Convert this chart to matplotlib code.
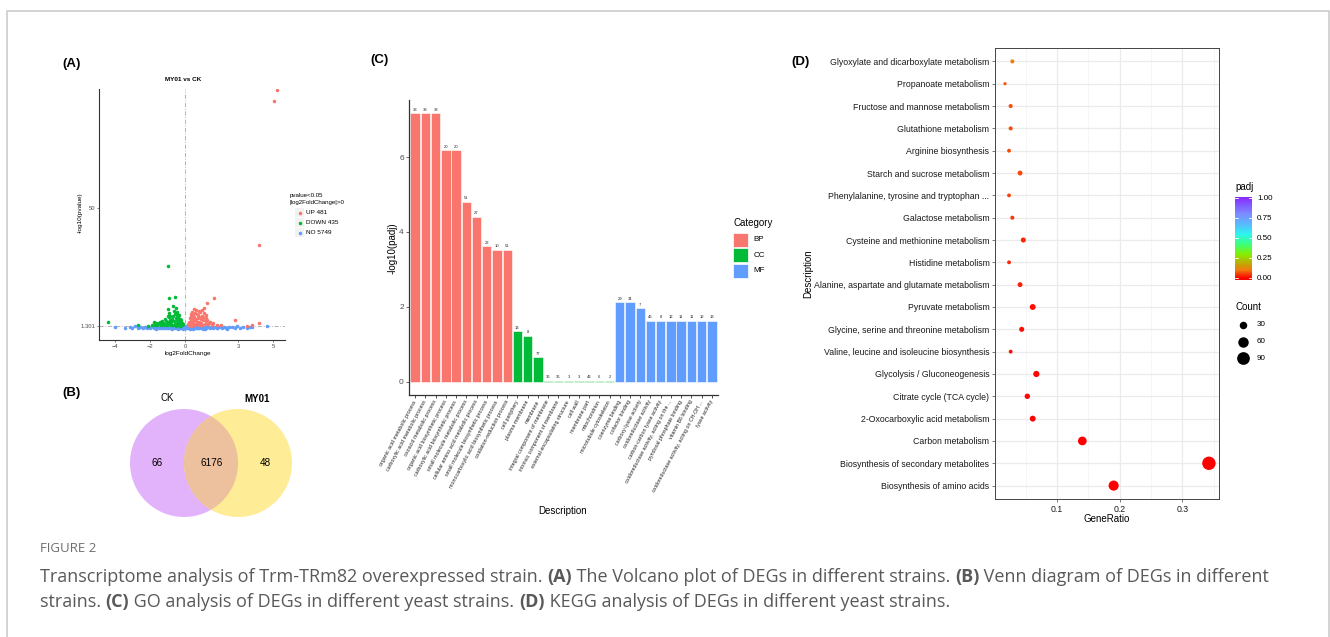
import numpy as np
import matplotlib
matplotlib.use("Agg")
import matplotlib.pyplot as plt
from matplotlib.colors import LinearSegmentedColormap
from matplotlib.patches import Circle, Rectangle

plt.rcParams['font.family'] = ['Liberation Sans', 'DejaVu Sans']

# ---------------- data ----------------
# (A) volcano plot: log2 fold change and -log10(pvalue)
up_lfc = [0.2, 0.25, 0.3, 0.35, 0.4, 0.45, 0.5, 0.5, 0.55, 0.6, 0.6, 0.65, 0.7, 0.75, 0.8,
          0.85, 0.9, 0.95, 1.0, 1.05, 1.1, 1.15, 1.2, 1.3, 1.4, 1.5, 1.6, 1.8, 2.0, 0.3,
          0.35, 0.4, 0.45, 0.55, 0.7, 0.75, 0.8, 0.9, 1.0, 1.25, 1.15, 0.25, 0.2, 0.15, 0.65,
          0.95, 1.35, 0.5, 0.4, 0.6, 0.7, 0.3, 0.85, 1.63, 1.25, 2.82, 4.17, 3.8, 3.5, 5.19,
          5.06, 4.17, 1.05, 0.95]
up_p = [1.6, 2.4, 3.2, 1.9, 4.1, 2.7, 5.0, 8.3, 3.5, 7.7, 2.1, 6.0, 4.4, 1.7, 3.0,
        7.1, 2.5, 5.2, 3.8, 6.5, 2.2, 3.3, 4.6, 1.9, 2.8, 1.8, 2.4, 1.5, 1.6, 5.4,
        6.4, 7.0, 5.9, 6.8, 5.6, 7.4, 5.0, 4.1, 4.9, 3.7, 5.6, 4.5, 3.0, 1.9, 2.9,
        1.6, 2.4, 1.5, 2.0, 4.0, 2.6, 1.4, 1.8, 12.9, 10.6, 3.6, 2.5, 1.6, 1.4, 99.2,
        94.7, 35.0, 8.8, 7.8]

down_lfc = [-0.2, -0.25, -0.3, -0.35, -0.4, -0.45, -0.5, -0.55, -0.6, -0.65, -0.7, -0.75, -0.8,
            -0.85, -0.9, -0.95, -1.0, -1.05, -1.1, -1.2, -1.3, -1.4, -1.5, -1.6, -1.7, -1.8,
            -1.9, -2.1, -0.3, -0.4, -0.45, -0.5, -0.55, -0.6, -0.7, -0.65, -0.35, -0.25, -0.2,
            -0.15, -0.55, -0.75, -0.85, -0.95, -1.0, -1.1, -1.15, -1.3, -1.25, -0.9, -0.5,
            -0.6, -0.45, -0.3, -0.8, -1.45, -1.65, -0.4, -0.35, -0.25, -4.4, -2.7, -0.97,
            -0.9, -0.6, -1.0]
down_p = [1.5, 2.1, 2.8, 3.4, 1.8, 2.5, 3.9, 4.6, 2.2, 3.1, 5.2, 1.6, 2.7,
          3.6, 1.9, 2.4, 3.0, 1.7, 2.2, 1.5, 2.0, 1.6, 2.4, 1.8, 1.5, 2.9,
          1.6, 1.4, 4.2, 5.0, 6.1, 7.0, 8.5, 6.4, 9.7, 7.6, 5.8, 3.7, 2.6,
          1.9, 1.4, 4.3, 5.4, 4.8, 5.4, 3.4, 4.0, 3.1, 2.6, 6.6, 5.6,
          1.7, 2.0, 1.4, 1.5, 2.8, 2.3, 3.3, 2.4, 1.6, 3.0, 1.45, 26.0,
          12.8, 13.2, 8.2]

no_lfc = [-4.0, -3.4, -3.15, -3.0, -2.85, -2.7, -2.55, -2.4, -2.3, -2.2, -2.1, -2.0, -1.9,
          -1.85, -1.8, -1.7, -1.65, -1.6, -1.5, -1.45, -1.4, -1.35, -1.3, -1.25, -1.2, -1.15,
          -1.1, -1.05, -1.0, -0.95, -0.9, -0.85, -0.8, -0.75, -0.7, -0.65, -0.6, -0.55, -0.5,
          -0.45, -0.4, -0.35, -0.3, -0.25, -0.2, -0.15, -0.1, -0.05, 0.0, 0.05, 0.1, 0.15,
          0.2, 0.25, 0.3, 0.35, 0.4, 0.45, 0.5, 0.55, 0.6, 0.65, 0.7, 0.75, 0.8, 0.85, 0.9,
          0.95, 1.0, 1.1, 1.2, 1.3, 1.4, 1.5, 1.6, 1.7, 1.8, 1.9, 2.0, 2.1, 2.2, 2.35, 2.5,
          2.65, 2.8, 2.95, 3.1, 3.3, 3.5, 3.65, 3.8, 4.62, -1.8, -1.5, -1.2, -1.0, -0.8,
          -0.6, -0.4, -0.3, -0.2, -0.1, 0.0, 0.1, 0.2, 0.3, 0.4, 0.6, 0.8, 1.0, 1.2, 1.5,
          1.8, -0.9, -0.7, -0.5, -0.35, -0.15, 0.05, 0.15, 0.25, 0.5, 0.7, 0.9, -2.6, 2.3]
no_p = [0.6, 0.2, 0.9, 0.4, 1.1, 0.3, 0.7, 0.5, 1.0, 0.2, 0.8, 0.4, 1.1,
        0.6, 0.3, 0.9, 0.1, 0.7, 1.2, 0.4, 0.8, 0.2, 1.0, 0.6, 0.3, 1.1,
        0.5, 0.9, 0.2, 0.7, 1.2, 0.4, 0.8, 0.1, 1.0, 0.6, 0.3, 1.1, 0.5,
        0.9, 0.2, 0.7, 1.2, 0.4, 0.8, 0.1, 1.0, 0.6, 0.3, 1.1, 0.5, 0.9,
        0.2, 0.7, 1.2, 0.4, 0.8, 0.1, 1.0, 0.6, 0.3, 1.1, 0.5, 0.9, 0.2, 0.7, 1.2,
        0.4, 0.8, 0.1, 1.0, 0.6, 0.3, 1.1, 0.5, 0.9, 0.2, 0.7, 1.2, 0.4, 0.8, 0.1, 1.0,
        0.6, 0.3, 1.1, 0.5, 0.9, 0.2, 0.7, 1.0, 1.1, 0.9, 0.2, 0.6, 1.0, 0.4,
        0.8, 0.1, 0.5, 0.9, 0.3, 0.7, 1.1, 0.2, 0.6, 1.0, 0.4, 0.8, 0.1, 0.5, 0.9,
        0.3, 0.7, 1.1, 0.2, 0.6, 1.0, 0.4, 0.8, 0.1, 0.5, 0.9, 0.3, 1.0, 0.5]

volcano_legend = ["UP 481", "DOWN 435", "NO 5749"]

# (B) Venn diagram
venn_sets = ["CK", "MY01"]
venn_counts = [66, 6176, 48]   # CK only, shared, MY01 only

# (C) GO enrichment
go_terms = [
    "organic acid metabolic process", "carboxylic acid metabolic process",
    "oxoacid metabolic process", "organic acid biosynthetic process",
    "carboxylic acid biosynthetic process", "small molecule metabolic process",
    "cellular amino acid metabolic process", "small molecule biosynthetic process",
    "monocarboxylic acid biosynthetic process", "oxidation-reduction process",
    "cell periphery", "plasma membrane", "membrane", "integral component of membrane",
    "intrinsic component of membrane", "external encapsulating structure", "cell wall",
    "membrane part", "mitochondrion", "microtubule cytoskeleton",
    "coenzyme binding", "cofactor binding", "carboxy-lyase activity",
    "oxidoreductase activity", "carbon-carbon lyase activity",
    "oxidoreductase activity, acting on the ...", "pyridoxal phosphate binding",
    "vitamin B6 binding", "oxidoreductase activity, acting on CH-OH ...", "lyase activity"]
go_category = ["BP"] * 10 + ["CC"] * 10 + ["MF"] * 10
go_log_padj = [7.17, 7.17, 7.17, 6.18, 6.18, 4.81, 4.41, 3.62, 3.53, 3.53,
               1.34, 1.23, 0.65, 0.02, 0.02, 0.02, 0.02, 0.02, 0.02, 0.02,
               2.12, 2.12, 1.96, 1.63, 1.63, 1.63, 1.63, 1.63, 1.63, 1.63]
go_counts = [38, 38, 38, 20, 20, 51, 27, 22, 10, 51,
             13, 8, 77, 36, 36, 3, 3, 43, 6, 2,
             29, 34, 7, 46, 8, 12, 11, 11, 12, 13]
category_colors = {"BP": "#F8766D", "CC": "#00BA38", "MF": "#619CFF"}

# (D) KEGG enrichment
kegg_terms = [
    "Glyoxylate and dicarboxylate metabolism", "Propanoate metabolism",
    "Fructose and mannose metabolism", "Glutathione metabolism", "Arginine biosynthesis",
    "Starch and sucrose metabolism", "Phenylalanine, tyrosine and tryptophan ...",
    "Galactose metabolism", "Cysteine and methionine metabolism", "Histidine metabolism",
    "Alanine, aspartate and glutamate metabolism", "Pyruvate metabolism",
    "Glycine, serine and threonine metabolism", "Valine, leucine and isoleucine biosynthesis",
    "Glycolysis / Gluconeogenesis", "Citrate cycle (TCA cycle)",
    "2-Oxocarboxylic acid metabolism", "Carbon metabolism",
    "Biosynthesis of secondary metabolites", "Biosynthesis of amino acids"]
kegg_ratio = [0.0287, 0.017, 0.026, 0.026, 0.0234, 0.041, 0.0234, 0.0287, 0.0462, 0.0234,
              0.041, 0.0612, 0.0436, 0.026, 0.067, 0.0526, 0.0612, 0.1404, 0.3425, 0.1904]
kegg_count = [8, 5, 8, 8, 7, 12, 7, 8, 13, 7, 12, 18, 13, 7, 20, 15, 18, 41, 100, 56]
kegg_padj = [0.11, 0.075, 0.065, 0.065, 0.06, 0.06, 0.055, 0.05, 0.035, 0.035,
             0.025, 0.012, 0.015, 0.012, 0.004, 0.005, 0.003, 0.0005, 0.0001, 0.00002]
size_legend = [30, 60, 90]
padj_ticks = [0.0, 0.25, 0.5, 0.75, 1.0]

caption_title = "FIGURE 2"
caption_lines = [
    [("Transcriptome analysis of Trm-TRm82 overexpressed strain. ", False), ("(A)", True),
     (" The Volcano plot of DEGs in different strains. ", False), ("(B)", True),
     (" Venn diagram of DEGs in different", False)],
    [("strains. ", False), ("(C)", True),
     (" GO analysis of DEGs in different yeast strains. ", False), ("(D)", True),
     (" KEGG analysis of DEGs in different yeast strains.", False)],
]

# ---------------- figure ----------------
W, H = 1330, 637
fig = plt.figure(figsize=(W / 100, H / 100), dpi=100)
fig.patch.set_facecolor("white")


def axes_px(left, top, right, bottom, **kw):
    return fig.add_axes([left / W, 1 - bottom / H, (right - left) / W, (bottom - top) / H], **kw)


# overlay in pixel units for annotations, legends and the Venn diagram
ov = fig.add_axes([0, 0, 1, 1], zorder=10)
ov.set_xlim(0, W)
ov.set_ylim(H, 0)
ov.axis("off")
ov.patch.set_alpha(0)


def txt(x, y, s, size, **kw):
    kw.setdefault("ha", "center")
    kw.setdefault("va", "center")
    kw.setdefault("color", "black")
    return ov.text(x, y, s, fontsize=size, **kw)


# outer frame
ov.plot([6.5, 6.5, 1328.5, 1328.5], [H + 2, 10.5, 10.5, H + 2], color="#C8C8C8", lw=1.1,
        clip_on=False)

# panel labels
for lab, (x, y) in zip(["(A)", "(B)", "(C)", "(D)"],
                       [(62, 64), (62, 393), (370, 60), (791, 62)]):
    txt(x, y, lab, 9.5, ha="left", fontweight="bold")

# ---------------- (A) volcano ----------------
axA = axes_px(99, 89, 285, 340)
axA.scatter(no_lfc, no_p, s=6.5, color="#619CFF", linewidths=0, zorder=2)
axA.scatter(down_lfc, down_p, s=6.5, color="#00BA38", linewidths=0, zorder=3)
axA.scatter(up_lfc, up_p, s=6.5, color="#F8766D", linewidths=0, zorder=3)
axA.axvline(0, color="#A8A8A8", lw=0.6, ls=(0, (5, 2, 1, 2)), zorder=1)
axA.axhline(1.301, color="#A8A8A8", lw=0.6, ls=(0, (5, 2, 1, 2)), zorder=1)
axA.set_xlim(-4.9, 5.66)
axA.set_ylim(-4.6, 99.6)
axA.set_xticks([-4, -2, 0, 3, 5])
axA.set_yticks([1.301, 50])
axA.set_yticklabels(["1.301", "50"])
for s in ["top", "right"]:
    axA.spines[s].set_visible(False)
for s in ["left", "bottom"]:
    axA.spines[s].set_color("#333333")
    axA.spines[s].set_linewidth(0.8)
axA.tick_params(labelsize=4.2, colors="#4D4D4D", length=1.6, width=0.5, pad=1.2)
axA.patch.set_alpha(0)
txt(183.5, 79.5, "MY01 vs CK", 4.6, fontweight="bold")
txt(80, 213, "-log10(pvalue)", 4.6, rotation=90)
txt(188, 353, "log2FoldChange", 4.6)
txt(290, 195.7, "pvalue<0.05", 4.4, ha="left")
txt(290, 202.5, "|log2FoldChange|>0", 4.4, ha="left")
for lab, col, y in zip(volcano_legend, ["#F8766D", "#00BA38", "#619CFF"], [212.7, 222.7, 232.7]):
    ov.add_patch(Rectangle((295, y - 4.5), 9, 9, fc="#F2F2F2", ec="none"))
    ov.scatter([299.5], [y], s=6.5, color=col, linewidths=0)
    txt(306, y, lab, 4.6, ha="left")

# ---------------- (B) Venn ----------------
c_left = Circle((184, 463), 54, fc="#E2B2FA", ec="none")
c_right = Circle((238, 463), 54, fc="#FEEC96", ec="none")
ov.add_patch(c_left)
ov.add_patch(c_right)
c_both = Circle((238, 463), 54, fc="#EDC09E", ec="none")
ov.add_patch(c_both)
c_both.set_clip_path(c_left)
txt(167, 398, venn_sets[0], 7)
txt(257, 399, venn_sets[1], 7, fontweight="bold")
for x, n in zip([157, 212, 265], venn_counts):
    txt(x, 463, str(n), 7.2)

# ---------------- (C) GO bars ----------------
axC = axes_px(409, 100, 718, 395)
xpos = np.arange(len(go_terms))
axC.bar(xpos, go_log_padj, width=0.92, color=[category_colors[c] for c in go_category],
        edgecolor="white", linewidth=0.4, zorder=2)
for x, v, n in zip(xpos, go_log_padj, go_counts):
    axC.text(x, v + 0.04, str(n), ha="center", va="bottom", fontsize=3.0, color="#222222")
axC.set_xlim(-0.6, 29.6)
axC.set_ylim(-0.36, 7.53)
axC.set_yticks([0, 2, 4, 6])
axC.set_xticks(xpos)
axC.set_xticklabels(go_terms, rotation=62, ha="right", va="center", rotation_mode="anchor",
                    fontsize=3.8, color="#222222")
for s in ["top", "right"]:
    axC.spines[s].set_visible(False)
for s in ["left", "bottom"]:
    axC.spines[s].set_color("#333333")
    axC.spines[s].set_linewidth(0.9)
axC.tick_params(axis="y", labelsize=6.0, colors="#4D4D4D", length=2.2, width=0.6, pad=1.5)
axC.tick_params(axis="x", length=2.2, width=0.6, color="#333333", pad=1.8)
axC.patch.set_alpha(0)
txt(393, 248, "-log10(padj)", 7, rotation=90)
txt(563, 511, "Description", 7)
txt(733, 223, "Category", 7, ha="left")
for cat, y in zip(["BP", "CC", "MF"], [239.7, 255.2, 270.7]):
    ov.add_patch(Rectangle((733.3, y - 7), 14.4, 14, fc=category_colors[cat], ec="white", lw=0.5))
    txt(753.3, y, cat, 5.8, ha="left")

# ---------------- (D) KEGG dots ----------------
padj_cmap = LinearSegmentedColormap.from_list("padj", [
    (0.0, "#FF0000"), (0.1, "#F07A10"), (0.2, "#B8B400"), (0.3, "#86F000"),
    (0.42, "#3CFF7A"), (0.55, "#2EF5F0"), (0.68, "#5AB8FF"), (0.8, "#7C8CFF"),
    (0.9, "#8060FF"), (1.0, "#8A2BFF")])


def dot_area(count):
    d_px = 3.3 + (np.sqrt(np.asarray(count, float)) - np.sqrt(5)) * 1.3
    return (d_px / 1.389) ** 2


axD = axes_px(995, 48, 1219, 499)
rows = np.arange(len(kegg_terms))
axD.scatter(kegg_ratio, rows, s=dot_area(kegg_count), c=kegg_padj, cmap=padj_cmap,
            vmin=0, vmax=1, linewidths=0, zorder=3)
axD.set_xlim(0.001, 0.3586)
axD.set_ylim(19.6, -0.6)
axD.set_yticks(rows)
axD.set_yticklabels(kegg_terms)
axD.set_xticks([0.1, 0.2, 0.3])
axD.set_xticklabels(["0.1", "0.2", "0.3"])
axD.set_xticks([0.05, 0.15, 0.25, 0.35], minor=True)
axD.grid(which="major", color="#EBEBEB", lw=0.9, zorder=0)
axD.grid(which="minor", axis="x", color="#F3F3F3", lw=0.5, zorder=0)
axD.set_axisbelow(True)
for s in axD.spines.values():
    s.set_color("#444444")
    s.set_linewidth(0.7)
axD.tick_params(which="major", labelsize=6.3, colors="#1A1A1A", length=2.0, width=0.5, pad=2)
axD.tick_params(which="minor", length=0)
axD.tick_params(axis="both", color="#444444")
txt(808, 273.5, "Description", 7, rotation=90)
txt(1107, 519, "GeneRatio", 7)

# colour bar
axCb = axes_px(1235, 196.7, 1252, 280)
grad = np.linspace(-0.02, 1.02, 256).reshape(-1, 1)
axCb.imshow(grad, aspect="auto", cmap=padj_cmap, vmin=0, vmax=1, origin="lower",
            extent=[0, 1, -0.02, 1.02])
for v in padj_ticks:
    axCb.plot([0, 0.2], [v, v], color="white", lw=0.6)
    axCb.plot([0.8, 1], [v, v], color="white", lw=0.6)
axCb.set_xlim(0, 1)
axCb.set_ylim(-0.02, 1.02)
axCb.axis("off")
txt(1235, 186.7, "padj", 7, ha="left")
for v in padj_ticks:
    txt(1257, 278 - v * (278 - 198.3), f"{v:.2f}", 5.8, ha="left")

txt(1235, 306.7, "Count", 7, ha="left")
for n, y in zip(size_legend, [325, 341.7, 358.3]):
    ov.scatter([1243.3], [y], s=dot_area(n), color="black", linewidths=0)
    txt(1257, y, str(n), 5.8, ha="left")

# ---------------- caption ----------------
renderer = fig.canvas.get_renderer()
cap_props = dict(fontsize=13.0, color="#595959", family=["Open Sans", "DejaVu Sans"])


def advance(s, weight):
    t1 = ov.text(0, 0, s + "|", fontweight=weight, **cap_props)
    t2 = ov.text(0, 0, "|", fontweight=weight, **cap_props)
    w = t1.get_window_extent(renderer).width - t2.get_window_extent(renderer).width
    t1.remove()
    t2.remove()
    return w


txt(40, 548, caption_title, 9.5, ha="left", color="#6E6E6E", family=["Open Sans", "DejaVu Sans"])
for line, y in zip(caption_lines, [577, 602]):
    x = 40
    for s, bold in line:
        weight = "bold" if bold else "normal"
        ov.text(x, y, s, ha="left", va="center", fontweight=weight, **cap_props)
        x += advance(s, weight)

fig.savefig("out.png", dpi=100)
